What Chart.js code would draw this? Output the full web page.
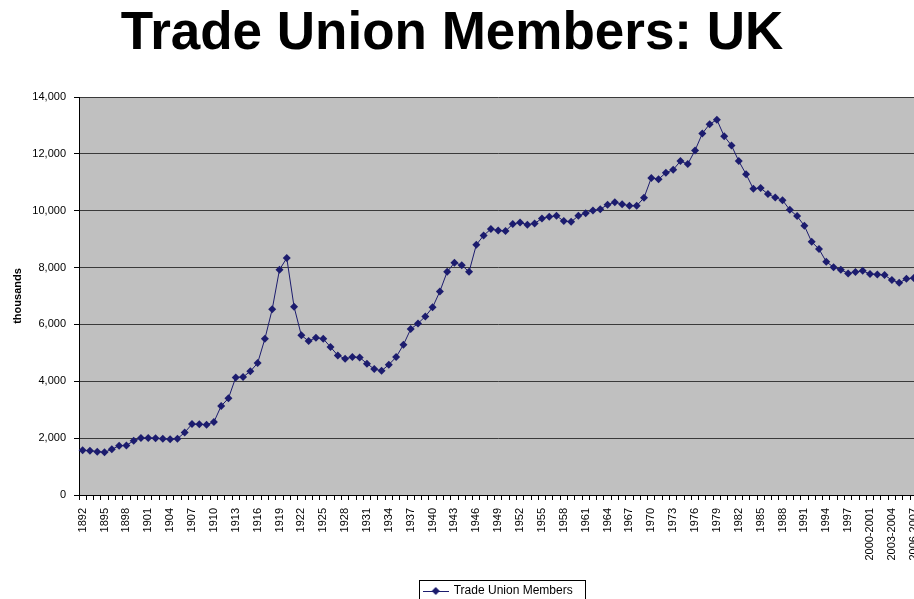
<!DOCTYPE html>
<html>
<head>
    <title>Trade Union Members: UK</title>
    <meta charset="UTF-8">
    <script src="https://cdn.jsdelivr.net/npm/chart.js"></script>
    <style>
        html, body {
            margin: 0;
            padding: 0;
            background-color: #fff;
            overflow: hidden;
        }

        body {
            width: 914px;
            height: 599px;
            position: relative;
        }

        .chart-title {
            position: absolute;
            left: 0;
            top: 4px;
            width: 904px;
            text-align: center;
            font-family: "Liberation Sans", Arial, sans-serif;
            font-weight: bold;
            font-size: 53px;
            line-height: 53px;
            color: #000;
        }

        #unionChart {
            position: absolute;
            left: 0;
            top: 0;
        }
    </style>
</head>
<body>
    <canvas id="unionChart" width="935" height="607"></canvas>
    <div class="chart-title">Trade Union Members: UK</div>

    <script>
        // Anos / periodos (eixo x)
        var years = [
            '1892', '1893', '1894', '1895', '1896', '1897', '1898', '1899', '1900', '1901',
            '1902', '1903', '1904', '1905', '1906', '1907', '1908', '1909', '1910', '1911',
            '1912', '1913', '1914', '1915', '1916', '1917', '1918', '1919', '1920', '1921',
            '1922', '1923', '1924', '1925', '1926', '1927', '1928', '1929', '1930', '1931',
            '1932', '1933', '1934', '1935', '1936', '1937', '1938', '1939', '1940', '1941',
            '1942', '1943', '1944', '1945', '1946', '1947', '1948', '1949', '1950', '1951',
            '1952', '1953', '1954', '1955', '1956', '1957', '1958', '1959', '1960', '1961',
            '1962', '1963', '1964', '1965', '1966', '1967', '1968', '1969', '1970', '1971',
            '1972', '1973', '1974', '1975', '1976', '1977', '1978', '1979', '1980', '1981',
            '1982', '1983', '1984', '1985', '1986', '1987', '1988', '1989', '1990', '1991',
            '1992', '1993', '1994', '1995', '1996', '1997', '1998', '1999',
            '2000-2001', '2001-2002', '2002-2003', '2003-2004', '2004-2005', '2005-2006', '2006-2007'
        ];

        // Membros (milhares)
        var members = [
            1570, 1560, 1525, 1500, 1605, 1735, 1745, 1910, 2005, 2005,
            2000, 1980, 1960, 1980, 2200, 2495, 2485, 2475, 2565, 3130,
            3400, 4135, 4150, 4350, 4640, 5495, 6530, 7925, 8335, 6620,
            5615, 5415, 5530, 5495, 5205, 4910, 4795, 4850, 4840, 4620,
            4430, 4370, 4585, 4850, 5285, 5835, 6035, 6280, 6600, 7160,
            7850, 8170, 8085, 7850, 8800, 9130, 9355, 9305, 9285, 9530,
            9585, 9510, 9550, 9730, 9785, 9820, 9635, 9610, 9820, 9915,
            10010, 10055, 10210, 10300, 10230, 10175, 10175, 10455, 11155, 11110,
            11335, 11440, 11745, 11640, 12120, 12715, 13045, 13200, 12620, 12295,
            11745, 11285, 10770, 10795, 10585, 10465, 10370, 10030, 9810, 9470,
            8905, 8650, 8205, 8015, 7925, 7795, 7840, 7890,
            7770, 7760, 7735, 7560, 7465, 7605, 7630
        ];

        var yTicks = [0, 2000, 4000, 6000, 8000, 10000, 12000, 14000];

        var lineColor = '#1c1c6e';

        // simbolo da legenda: linha com losango
        var legendSymbol = document.createElement('canvas');
        legendSymbol.width = 26;
        legendSymbol.height = 10;
        var sctx = legendSymbol.getContext('2d');
        sctx.strokeStyle = lineColor;
        sctx.lineWidth = 1;
        sctx.beginPath();
        sctx.moveTo(0, 5.5);
        sctx.lineTo(26, 5.5);
        sctx.stroke();
        sctx.fillStyle = lineColor;
        sctx.beginPath();
        sctx.moveTo(13, 1);
        sctx.lineTo(17, 5);
        sctx.lineTo(13, 9);
        sctx.lineTo(9, 5);
        sctx.closePath();
        sctx.fill();

        // fundo cinza da area do grafico
        var plotBackground = {
            id: 'plotBackground',
            beforeDraw: function(chart) {
                var a = chart.chartArea;
                var ctx = chart.ctx;
                ctx.save();
                ctx.fillStyle = '#c0c0c0';
                ctx.fillRect(a.left, a.top, a.right - a.left, a.bottom - a.top);
                ctx.restore();
            }
        };

        // moldura da legenda
        var legendFrame = {
            id: 'legendFrame',
            afterDraw: function(chart) {
                var hb = chart.legend.legendHitBoxes[0];
                if (!hb) return;
                var ctx = chart.ctx;
                ctx.save();
                ctx.strokeStyle = '#000';
                ctx.lineWidth = 1;
                ctx.strokeRect(Math.round(hb.left) - 4.5, Math.round(hb.top) - 4.5, Math.round(hb.width) + 17, Math.round(hb.height) + 9);
                ctx.restore();
            }
        };

        Chart.defaults.font.family = '"Liberation Sans", Arial, sans-serif';
        Chart.defaults.color = '#000';

        var ctx = document.getElementById('unionChart').getContext('2d');
        var chart = new Chart(ctx, {
            type: 'line',
            data: {
                labels: years,
                datasets: [{
                    label: 'Trade Union Members',
                    data: members,
                    borderColor: lineColor,
                    backgroundColor: lineColor,
                    borderWidth: 1,
                    pointStyle: 'rectRot',
                    pointRadius: 4,
                    pointBorderWidth: 0,
                    pointBackgroundColor: lineColor,
                    tension: 0
                }]
            },
            options: {
                responsive: false,
                animation: false,
                layout: {
                    padding: { top: 97, right: 13, left: 0, bottom: 0 }
                },
                plugins: {
                    legend: {
                        position: 'bottom',
                        fullSize: false,
                        labels: {
                            usePointStyle: true,
                            pointStyle: legendSymbol,
                            pointStyleWidth: 24,
                            boxHeight: 10,
                            padding: 15,
                            color: '#000',
                            font: { size: 12 }
                        }
                    },
                    tooltip: { enabled: false }
                },
                scales: {
                    x: {
                        offset: true,
                        grid: {
                            display: true,
                            offset: true,
                            drawOnChartArea: false,
                            tickLength: 5,
                            color: '#000'
                        },
                        border: { color: '#000', width: 1 },
                        ticks: {
                            autoSkip: false,
                            minRotation: 90,
                            maxRotation: 90,
                            padding: 8,
                            font: { size: 11 },
                            callback: function(value, index) {
                                return index % 3 === 0 ? years[index] : '';
                            }
                        },
                        afterFit: function(scale) {
                            scale.height = 75;
                        }
                    },
                    y: {
                        min: 0,
                        max: 14000,
                        afterBuildTicks: function(scale) {
                            scale.ticks = yTicks.map(function(v) { return { value: v }; });
                        },
                        ticks: {
                            padding: 8,
                            font: { size: 11 },
                            callback: function(value) {
                                return value.toLocaleString('en-US');
                            }
                        },
                        grid: {
                            color: '#3a3a3a',
                            tickLength: 5,
                            tickColor: '#000'
                        },
                        border: { color: '#000', width: 1 },
                        title: {
                            display: true,
                            text: 'thousands',
                            font: { size: 11, weight: 'bold' },
                            padding: { top: 11, bottom: 0 }
                        },
                        afterFit: function(scale) {
                            scale.width = 79;
                        }
                    }
                }
            },
            plugins: [plotBackground, legendFrame]
        });
    </script>
</body>
</html>
